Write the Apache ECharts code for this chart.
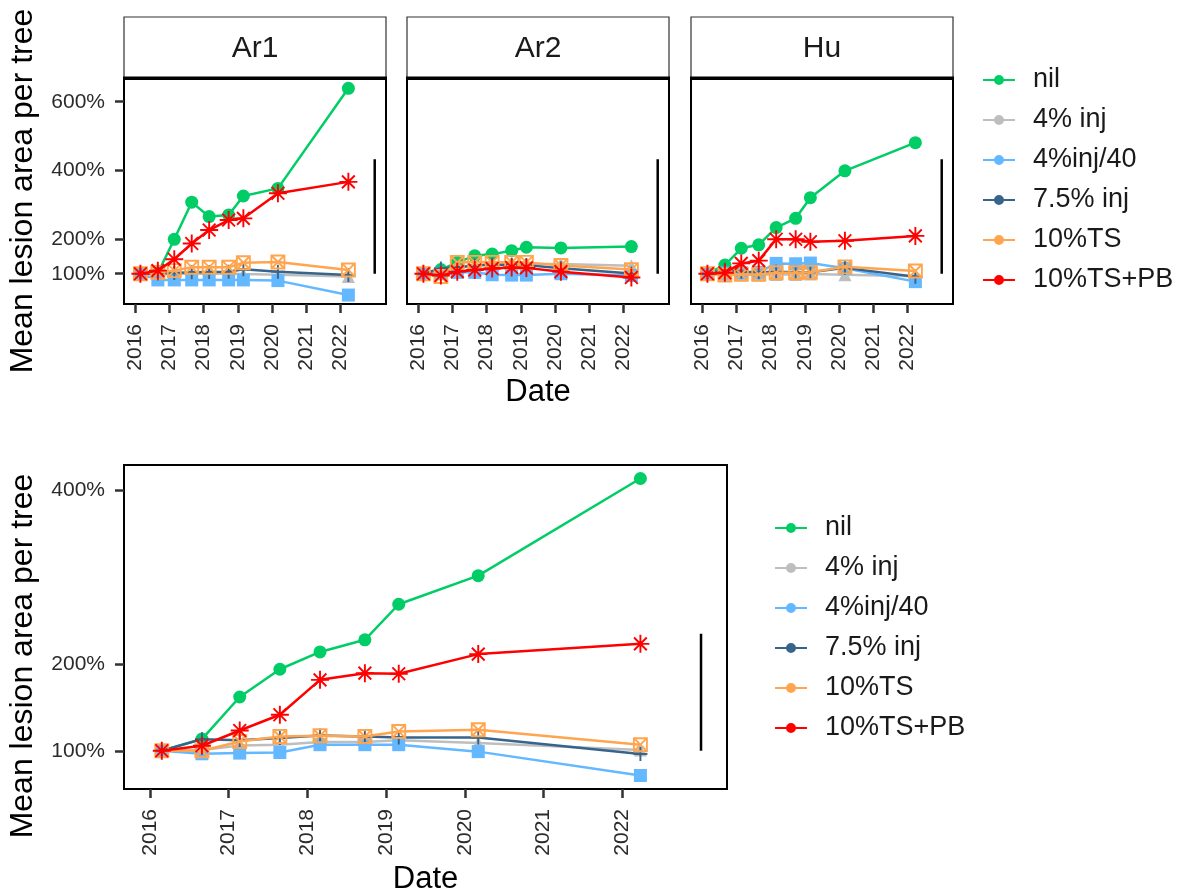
<!DOCTYPE html>
<html><head><meta charset="utf-8">
<script src="https://cdn.jsdelivr.net/npm/echarts@6/dist/echarts.min.js"></script>
<style>html,body{margin:0;padding:0;background:#fff}#c{width:1182px;height:893px}</style>
</head><body><div id="c"></div>
<script>
// ---------- data ----------
const dates = [2016.15, 2016.66, 2017.14, 2017.65, 2018.16, 2018.73, 2019.16, 2020.17, 2022.23];
const years = [2016, 2017, 2018, 2019, 2020, 2021, 2022];
const topTicks = [100, 200, 400, 600];
const bottomTicks = [100, 200, 400];
const treatments = ['nil', '4% inj', '4%inj/40', '7.5% inj', '10%TS', '10%TS+PB'];
const panelNames = ['Ar1', 'Ar2', 'Hu'];

const ar1Nil   = [100, 102, 200, 308, 266, 271, 326, 348, 639];
const ar1Inj4  = [100, 98, 99, 100, 100, 100, 99, 97, 92];
const ar1Inj40 = [100, 82, 82, 82, 82, 82, 82, 80, 38];
const ar1Inj75 = [100, 101, 102, 104, 105, 106, 113, 106, 96];
const ar1TS    = [100, 104, 109, 119, 119, 119, 132, 134, 111];
const ar1TSPB  = [100, 109, 142, 188, 227, 256, 261, 334, 367];

const ar2Nil   = [100, 112, 133, 152, 157, 167, 177, 175, 179];
const ar2Inj4  = [100, 105, 120, 125, 127, 128, 128, 128, 123];
const ar2Inj40 = [100, 100, 104, 104, 97, 96, 96, 100, 95];
const ar2Inj75 = [100, 115, 118, 124, 126, 126, 125, 116, 101];
const ar2TS    = [100, 92, 133, 133, 133, 133, 133, 124, 112];
const ar2TSPB  = [100, 95, 106, 111, 115, 118, 117, 106, 89];

const huNil    = [100, 125, 174, 184, 234, 261, 321, 399, 481];
const huInj4   = [100, 98, 97, 97, 98, 98, 99, 97, 93];
const huInj40  = [100, 102, 103, 104, 130, 129, 131, 116, 77];
const huInj75  = [100, 112, 106, 104, 106, 104, 104, 117, 91];
const huTS     = [100, 96, 98, 98, 103, 103, 104, 120, 108];
const huTSPB   = [100, 103, 130, 138, 200, 200, 193, 196, 210];

const allNil   = [100, 113.5, 162, 194, 214, 228, 269, 302, 414];
const allInj4  = [100, 101, 106, 107, 110, 110, 112, 109, 101];
const allInj40 = [100, 96.5, 97.3, 98, 107, 107, 107, 99, 71.5];
const allInj75 = [100, 113.4, 112, 114.6, 117.7, 116.5, 115.3, 115.3, 96.2];
const allTS    = [100, 100, 110.7, 116.5, 117.3, 116.5, 122.3, 124.2, 107];
const allTSPB  = [100, 105.8, 123.4, 141.5, 181.8, 189.5, 188.8, 211.5, 223.3];

const lsdX = 2023.0;
const lsdTop = [100, 433];
const lsdBottom = [100, 235];

// ---------- styling ----------
const FONT = '"Liberation Sans", Arial, Helvetica, sans-serif';
const colors = ['#00CD66', '#BEBEBE', '#63B8FF', '#36648B', '#FFA54F', '#FF0000'];
const symbols = [
  {symbol: 'circle', size: 13, stroke: false},
  {symbol: 'triangle', size: 13, stroke: false},
  {symbol: 'rect', size: 13, stroke: false},
  {symbol: 'path://M5 0 L5 10 M0 5 L10 5', size: 14, stroke: true},
  {symbol: 'path://M0 0 L10 0 L10 10 L0 10 Z M0 0 L10 10 M10 0 L0 10', size: 13, stroke: true},
  {symbol: 'path://M5 0 L5 10 M0 5 L10 5 M1.46 1.46 L8.54 8.54 M8.54 1.46 L1.46 8.54', size: 18, stroke: true}
];
const panelData = [
  [ar1Nil, ar1Inj4, ar1Inj40, ar1Inj75, ar1TS, ar1TSPB],
  [ar2Nil, ar2Inj4, ar2Inj40, ar2Inj75, ar2TS, ar2TSPB],
  [huNil, huInj4, huInj40, huInj75, huTS, huTSPB],
  [allNil, allInj4, allInj40, allInj75, allTS, allTSPB]
];
const grids = [
  {left: 124, top: 79, width: 262, height: 225},
  {left: 407, top: 79, width: 262, height: 225},
  {left: 691, top: 79, width: 262, height: 225},
  {left: 124, top: 465, width: 603, height: 324}
];
const yRanges = [[12, 666], [12, 666], [12, 666], [55.9, 429.6]];

const chart = echarts.init(document.getElementById('c'), null, {renderer: 'canvas'});

const xAxis = grids.map((g, i) => ({
  type: 'value', gridIndex: i, min: 2015.67, max: 2023.33,
  axisLine: {show: false}, splitLine: {show: false},
  axisTick: {show: true, customValues: years, length: 9, lineStyle: {color: '#333', width: 2.5}},
  axisLabel: {show: true, customValues: years, rotate: 90, margin: 20, fontSize: 21, fontFamily: FONT, color: '#2b2b2b',
    formatter: v => String(Math.round(v))}
}));
const yAxis = grids.map((g, i) => ({
  type: 'value', gridIndex: i, min: yRanges[i][0], max: yRanges[i][1],
  axisLine: {show: false}, splitLine: {show: false},
  axisTick: {show: i === 0 || i === 3, customValues: i === 3 ? bottomTicks : topTicks, length: 9, lineStyle: {color: '#333', width: 2.5}},
  axisLabel: {show: i === 0 || i === 3, customValues: i === 3 ? bottomTicks : topTicks, margin: 19, fontSize: 21, fontFamily: FONT, color: '#2b2b2b',
    formatter: v => Math.round(v) + '%'}
}));

const series = [];
panelData.forEach((arrs, p) => {
  arrs.forEach((vals, t) => {
    const s = symbols[t];
    series.push({
      type: 'line', name: treatments[t], xAxisIndex: p, yAxisIndex: p,
      data: dates.map((d, k) => [d, vals[k]]),
      symbol: s.symbol, symbolSize: s.size, symbolKeepAspect: true,
      lineStyle: {color: colors[t], width: 2.5},
      itemStyle: s.stroke ? {color: 'rgba(0,0,0,0)', borderColor: colors[t], borderWidth: 1.9}
                          : {color: colors[t], borderWidth: 0},
      emphasis: {disabled: true}, silent: true, z: 3 + t
    });
  });
  const lsd = p === 3 ? lsdBottom : lsdTop;
  series.push({
    type: 'line', name: 'LSD', xAxisIndex: p, yAxisIndex: p,
    data: [[lsdX, lsd[0]], [lsdX, lsd[1]]], symbol: 'none',
    lineStyle: {color: '#000', width: 2.5}, silent: true, z: 2
  });
});

const ICON = 'path://M0 4 L32 4 L32 6 L0 6 Z M11 5 A5 5 0 1 1 21 5 A5 5 0 1 1 11 5 Z';
function legendCfg(left, top) {
  return {
    orient: 'vertical', left: left, top: top, itemWidth: 32, itemHeight: 10, itemGap: 10,
    selectedMode: false,
    textStyle: {fontFamily: FONT, fontSize: 27, color: '#1a1a1a', lineHeight: 30, padding: [0, 0, 0, 13]},
    data: treatments.map((n, i) => ({name: n, icon: ICON, itemStyle: {color: colors[i], borderWidth: 0}}))
  };
}

const graphic = [];
panelNames.forEach((n, i) => {
  const g = grids[i];
  graphic.push({type: 'rect', shape: {x: g.left, y: 17, width: g.width, height: 61},
    style: {fill: '#fff', stroke: '#333', lineWidth: 1.2}, z: 1});
  graphic.push({type: 'rect', shape: {x: g.left - 1, y: 76.5, width: g.width + 2, height: 3.5},
    style: {fill: '#000'}, z: 2});
  graphic.push({type: 'text', x: g.left + g.width / 2, y: 49, z: 3,
    style: {text: n, font: '30px ' + FONT, fill: '#1a1a1a', align: 'center', verticalAlign: 'middle'}});
});
graphic.push({type: 'text', x: 23, y: 191, rotation: Math.PI / 2,
  style: {text: 'Mean lesion area per tree', font: '32px ' + FONT, fill: '#000', align: 'center', verticalAlign: 'middle'}});
graphic.push({type: 'text', x: 23, y: 656, rotation: Math.PI / 2,
  style: {text: 'Mean lesion area per tree', font: '32px ' + FONT, fill: '#000', align: 'center', verticalAlign: 'middle'}});
graphic.push({type: 'text', x: 538, y: 392,
  style: {text: 'Date', font: '31px ' + FONT, fill: '#000', align: 'center', verticalAlign: 'middle'}});
graphic.push({type: 'text', x: 425.5, y: 879,
  style: {text: 'Date', font: '31px ' + FONT, fill: '#000', align: 'center', verticalAlign: 'middle'}});

chart.setOption({
  animation: false,
  backgroundColor: '#fff',
  grid: grids.map(g => Object.assign({show: true, borderColor: '#000', borderWidth: 2, backgroundColor: 'transparent', containLabel: false}, g)),
  xAxis: xAxis,
  yAxis: yAxis,
  legend: [legendCfg(978, 60), legendCfg(770, 508)],
  series: series,
  graphic: graphic
});
</script></body></html>
